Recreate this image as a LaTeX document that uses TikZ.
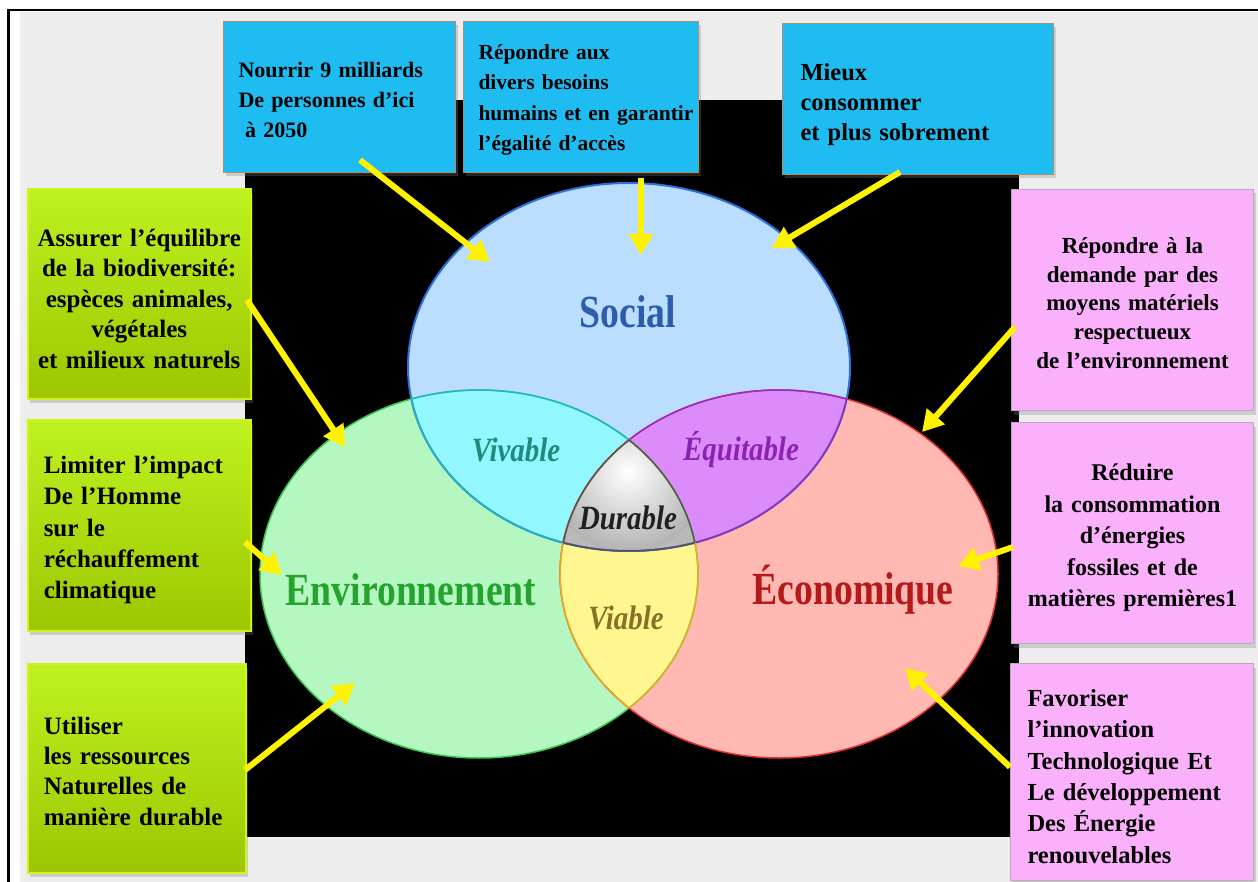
\documentclass[tikz,border=0pt]{standalone}
\usepackage{fontspec}
\setmainfont{Liberation Serif}
\newfontfamily\condfont[FakeStretch=0.82]{Liberation Serif}
\newfontfamily\condfontb[FakeStretch=0.85]{Liberation Serif}
\usetikzlibrary{arrows.meta,shadows}

\definecolor{bgGray}{HTML}{EDEDED}
\definecolor{boxBlue}{HTML}{1EBCF0}
\definecolor{boxBlueBorder}{HTML}{A89070}
\definecolor{boxGreenA}{HTML}{BEF220}
\definecolor{boxGreenB}{HTML}{9CC600}
\definecolor{boxGreenBorder}{HTML}{D2F218}
\definecolor{boxPink}{HTML}{FAB0FA}
\definecolor{boxPinkBorder}{HTML}{B8A8B8}
\definecolor{arrowYellow}{HTML}{FFF200}
\definecolor{socFill}{HTML}{BBDDFF}
\definecolor{socLine}{HTML}{2E6FD8}
\definecolor{envFill}{HTML}{B4F7C0}
\definecolor{envLine}{HTML}{3CC850}
\definecolor{ecoFill}{HTML}{FFB8B2}
\definecolor{ecoLine}{HTML}{E03030}
\definecolor{vivFill}{HTML}{92F7FE}
\definecolor{vivLine}{HTML}{20B8C0}
\definecolor{equFill}{HTML}{DC8CFA}
\definecolor{equLine}{HTML}{9A2AC8}
\definecolor{viaFill}{HTML}{FFF690}
\definecolor{viaLine}{HTML}{E0B020}
\definecolor{durLine}{HTML}{555555}
\definecolor{socText}{HTML}{2C5CAC}
\definecolor{envText}{HTML}{26A22E}
\definecolor{ecoText}{HTML}{B41A1A}
\definecolor{vivText}{HTML}{1E8C7C}
\definecolor{equText}{HTML}{8C22B4}
\definecolor{viaText}{HTML}{857228}
\definecolor{durText}{HTML}{202020}

\def\Soc{(629,367) ellipse [x radius=221pt, y radius=184pt]}
\def\Env{(479,574) ellipse [x radius=219pt, y radius=184pt]}
\def\Eco{(779,574) ellipse [x radius=219pt, y radius=184pt]}
\newcommand\topgap[1]{\rule{0pt}{#1pt}}

\tikzset{
  box/.style={rectangle, anchor=north west, inner ysep=0pt, line width=1pt,
    drop shadow={opacity=0.3, shadow xshift=2pt, shadow yshift=-4pt}},
  blueBox/.style={box, fill=boxBlue, draw=boxBlueBorder},
  greenBox/.style={box, draw=boxGreenBorder, line width=1.5pt, top color=boxGreenA, bottom color=boxGreenB},
  pinkBox/.style={box, fill=boxPink, draw=boxPinkBorder},
  arr/.style={draw=arrowYellow, line width=6pt, -{Triangle[width=23pt,length=21pt]}, fill=arrowYellow},
  bigLabel/.style={font=\condfont\bfseries\fontsize{46}{46}\selectfont},
  smallLabel/.style={font=\condfontb\bfseries\itshape\fontsize{34}{34}\selectfont},
  ring/.style={line width=1.5pt}
}

\begin{document}
\begin{tikzpicture}[x=1pt,y=-1pt]
\useasboundingbox (0,0) rectangle (1258,882);
\fill[white] (0,0) rectangle (1258,882);
\fill[bgGray] (20,12) rectangle (1258,882);
\draw[line width=1.5pt] (7,10) -- (1258,10);
\draw[line width=3pt] (8.5,10) -- (8.5,882);

% black panel
\fill[black] (245,100) rectangle (1019,837);

% base ellipses
\fill[socFill] \Soc;
\fill[envFill] \Env;
\fill[ecoFill] \Eco;
% pairwise intersections
\begin{scope} \clip \Soc; \fill[vivFill] \Env; \end{scope}
\begin{scope} \clip \Soc; \fill[equFill] \Eco; \end{scope}
\begin{scope} \clip \Env; \fill[viaFill] \Eco; \end{scope}
% triple intersection
\begin{scope} \clip \Soc; \clip \Env; \clip \Eco;
  \fill[gray!55] (400,400) rectangle (860,700);
  \shade[inner color=white, outer color=gray!60] (628,472) circle (80pt);
\end{scope}
% outlines
\draw[socLine, line width=2pt] \Soc;
\draw[envLine, ring] \Env;
\draw[ecoLine, ring] \Eco;
\begin{scope} \clip \Env; \draw[vivLine, ring] \Soc; \end{scope}
\begin{scope} \clip \Soc; \draw[vivLine, ring] \Env; \end{scope}
\begin{scope} \clip \Eco; \draw[equLine, ring] \Soc; \end{scope}
\begin{scope} \clip \Soc; \draw[equLine, ring] \Eco; \end{scope}
\begin{scope} \clip \Eco; \draw[viaLine, ring] \Env; \end{scope}
\begin{scope} \clip \Env; \draw[viaLine, ring] \Eco; \end{scope}
\begin{scope} \clip \Env; \clip \Eco; \draw[durLine, ring] \Soc; \end{scope}
\begin{scope} \clip \Soc; \clip \Eco; \draw[durLine, ring] \Env; \end{scope}
\begin{scope} \clip \Soc; \clip \Env; \draw[durLine, ring] \Eco; \end{scope}

% labels in the diagram
\node[bigLabel, text=socText] (social) at (628,312) {Social};
\node[bigLabel, text=envText] (environnement) at (411,590) {Environnement};
\node[bigLabel, text=ecoText] (economique) at (853,590) {Économique};
\node[smallLabel, text=vivText] (vivable) at (516,450) {Vivable};
\node[smallLabel, text=equText] (equitable) at (741,450) {Équitable};
\node[smallLabel, text=durText] (durable) at (628,518) {Durable};
\node[smallLabel, text=viaText] (viable) at (626,618) {Viable};

% blue boxes (top)
\node[blueBox, minimum width=232pt, minimum height=151pt, text width=202pt, inner xsep=15pt, align=left,
  font=\bfseries\fontsize{22}{30}\selectfont] (nourrir) at (223,21)
  {\topgap{21}Nourrir 9 milliards\\De personnes d’ici\\\hspace*{0.3em}à 2050};
\node[blueBox, minimum width=235pt, minimum height=151pt, text width=205pt, inner xsep=15pt, align=left,
  font=\bfseries\fontsize{21.5}{30.3}\selectfont] (besoins) at (463,21)
  {\topgap{21}Répondre aux\\divers besoins\\\mbox{humains et en garantir}\\l’égalité d’accès};
\node[blueBox, minimum width=271pt, minimum height=151pt, text width=235pt, inner xsep=18pt, align=left,
  font=\bfseries\fontsize{24.5}{30}\selectfont] (mieux) at (782,23)
  {\topgap{28}Mieux\\consommer\\et plus sobrement};

% green boxes (left)
\node[greenBox, minimum width=223pt, minimum height=210pt, text width=209pt, inner xsep=7pt, align=center,
  font=\bfseries\fontsize{25}{30.5}\selectfont] (biodiv) at (27,188)
  {\topgap{27}Assurer l’équilibre\\de la biodiversité:\\ espèces animales,\\végétales\\et milieux naturels};
\node[greenBox, minimum width=223pt, minimum height=211pt, text width=191pt, inner xsep=16pt, align=left,
  font=\bfseries\fontsize{25}{31.2}\selectfont] (impact) at (27,419)
  {\topgap{27}Limiter l’impact\\De l’Homme\\sur le\\réchauffement\\climatique};
\node[greenBox, minimum width=218pt, minimum height=209pt, text width=186pt, inner xsep=16pt, align=left,
  font=\bfseries\fontsize{25}{30.3}\selectfont] (ressources) at (27,663)
  {\topgap{23}Utiliser\\les ressources\\Naturelles de\\manière durable};

% pink boxes (right)
\node[pinkBox, minimum width=242pt, minimum height=221pt, text width=226pt, inner xsep=8pt, align=center,
  font=\bfseries\fontsize{23}{28.8}\selectfont] (demande) at (1011,189)
  {\topgap{22}Répondre à la\\demande par des\\moyens matériels\\respectueux\\de l’environnement};
\node[pinkBox, minimum width=242pt, minimum height=221pt, text width=226pt, inner xsep=8pt, align=center,
  font=\bfseries\fontsize{24}{31.5}\selectfont] (reduire) at (1011,422)
  {\topgap{27}Réduire\\la consommation\\d’énergies\\fossiles et de\\matières premières1};
\node[pinkBox, minimum width=243pt, minimum height=217pt, text width=209pt, inner xsep=17pt, align=left,
  font=\bfseries\fontsize{24.5}{31.4}\selectfont] (innovation) at (1010,663)
  {\topgap{26}Favoriser\\l’innovation\\Technologique Et\\Le développement\\Des Énergie\\renouvelables};

% arrow end points
\coordinate (s1) at (360,160);  \coordinate (t1) at (490,262);
\coordinate (s2) at (641,178);  \coordinate (t2) at (641,255);
\coordinate (s3) at (900,172);  \coordinate (t3) at (772,248);
\coordinate (s4) at (247,300);  \coordinate (t4) at (345,447);
\coordinate (s5) at (245,542);  \coordinate (t5) at (282,575);
\coordinate (s6) at (245,770);  \coordinate (t6) at (355,683);
\coordinate (s7) at (1015,327); \coordinate (t7) at (922,432);
\coordinate (s8) at (1013,547); \coordinate (t8) at (958,566);
\coordinate (s9) at (1010,767); \coordinate (t9) at (905,668);

\foreach \i in {1,...,9} { \draw[arr] (s\i) -- (t\i); }
\end{tikzpicture}
\end{document}
